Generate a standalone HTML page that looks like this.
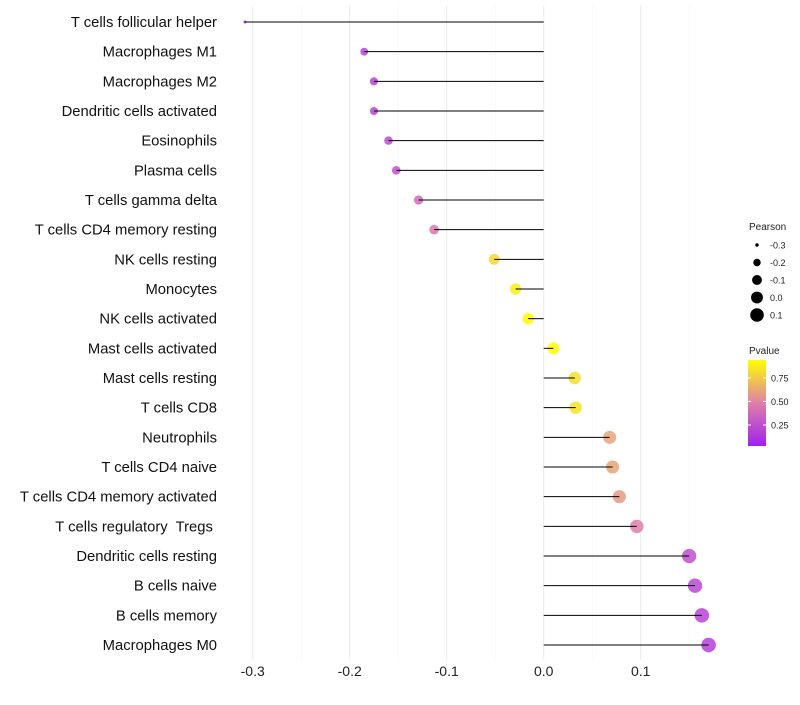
<!DOCTYPE html>
<html><head><meta charset="utf-8"><style>
body{margin:0;background:#fff}
svg{font-family:"Liberation Sans",sans-serif}
text{white-space:pre}
</style></head><body>
<svg id="c" width="800" height="700"></svg>
<script>
const categories=["T cells follicular helper","Macrophages M1","Macrophages M2","Dendritic cells activated","Eosinophils","Plasma cells","T cells gamma delta","T cells CD4 memory resting","NK cells resting","Monocytes","NK cells activated","Mast cells activated","Mast cells resting","T cells CD8","Neutrophils","T cells CD4 naive","T cells CD4 memory activated","T cells regulatory  Tregs ","Dendritic cells resting","B cells naive","B cells memory","Macrophages M0"];
const pearson=[-0.308,-0.185,-0.175,-0.175,-0.160,-0.152,-0.129,-0.113,-0.051,-0.029,-0.016,0.010,0.032,0.033,0.068,0.071,0.078,0.096,0.150,0.156,0.163,0.170];
const pvalue=[0.03,0.2,0.2,0.2,0.22,0.27,0.38,0.45,0.8,0.88,0.92,0.94,0.82,0.84,0.62,0.62,0.58,0.48,0.25,0.22,0.2,0.18];
const xTicks=[-0.3,-0.2,-0.1,0.0,0.1];
const xTickLabels=["-0.3","-0.2","-0.1","0.0","0.1"];
const sizeLegend=[-0.3,-0.2,-0.1,0.0,0.1];
const sizeLegendLabels=["-0.3","-0.2","-0.1","0.0","0.1"];
const colorLegend=[0.25,0.50,0.75];
const colorLegendLabels=["0.25","0.50","0.75"];

const NS="http://www.w3.org/2000/svg";
const svg=document.getElementById('c');
const x=v=>543.7+v*970;
const y=i=>22+i*29.667;
const r=v=>Math.sqrt(Math.max(1,3+(v+0.3)*107.5));
const pMin=0.027,pMax=0.94;
const stops=[[160,32,240],[222,128,170],[255,255,0]];
function col(p){let t=Math.min(1,Math.max(0,(p-pMin)/(pMax-pMin)));let s=t<0.5?0:1,u=t<0.5?t*2:(t-0.5)*2;
 const a=stops[s],b=stops[s+1];return `rgb(${a.map((c,k)=>Math.round(c+(b[k]-c)*u)).join(',')})`;}
function el(t,a,p){const e=document.createElementNS(NS,t);for(const k in a)e.setAttribute(k,a[k]);(p||svg).appendChild(e);return e;}

const grid=el('g',{});
for(let v=-0.35;v<=0.151;v+=0.05){const gx=x(v);if(gx<230)continue;
 el('line',{x1:gx,x2:gx,y1:5,y2:660,stroke:Math.abs(Math.round(v*100))%10===0?'#ebebeb':'#f4f4f4','stroke-width':Math.abs(Math.round(v*100))%10===0?1:0.6},grid);}
const xa=el('g',{});
xTicks.forEach((v,i)=>{const t=el('text',{x:x(v),y:676,'text-anchor':'middle','font-size':14,fill:'#222'},xa);t.textContent=xTickLabels[i];
 });
categories.forEach((c,i)=>{
 const g=el('g',{});
 const lb=el('text',{x:217,y:y(i)+5,'text-anchor':'end','font-size':14.8,fill:'#111'},g);lb.textContent=c;
 
 const pt=el('circle',{cx:x(pearson[i]),cy:y(i),r:r(pearson[i]),fill:col(pvalue[i]),'fill-opacity':0.85},g);
 
 const ln=el('line',{x1:x(0),x2:x(pearson[i]),y1:y(i),y2:y(i),stroke:'#000','stroke-width':1},g);
 
});
const sl=el('g',{});
let t=el('text',{x:749,y:230,'font-size':10,fill:'#222'},sl);t.textContent='Pearson';
sizeLegend.forEach((v,i)=>{const cy=245+i*17.5;el('circle',{cx:757,cy:cy,r:r(v),fill:'#000'},sl);
 const tt=el('text',{x:770,y:cy+3.5,'font-size':9,fill:'#222'},sl);tt.textContent=sizeLegendLabels[i];});
const cl=el('g',{});
t=el('text',{x:749,y:354,'font-size':10,fill:'#222'},cl);t.textContent='Pvalue';
const defs=el('defs',{});const lg=el('linearGradient',{id:'pg',x1:0,y1:1,x2:0,y2:0},defs);
[0,0.5,1].forEach((o,k)=>el('stop',{offset:o,'stop-color':`rgb(${stops[k].join(',')})`},lg));
el('rect',{x:748,y:360,width:18,height:86,fill:'url(#pg)'},cl);
const py=p=>446-(p-pMin)/(pMax-pMin)*86;
colorLegend.forEach((p,i)=>{el('line',{x1:748,x2:751,y1:py(p),y2:py(p),stroke:'#fff'},cl);el('line',{x1:763,x2:766,y1:py(p),y2:py(p),stroke:'#fff'},cl);
 const tt=el('text',{x:771,y:py(p)+3.5,'font-size':9,fill:'#222'},cl);tt.textContent=colorLegendLabels[i];});
</script>
</body></html>
